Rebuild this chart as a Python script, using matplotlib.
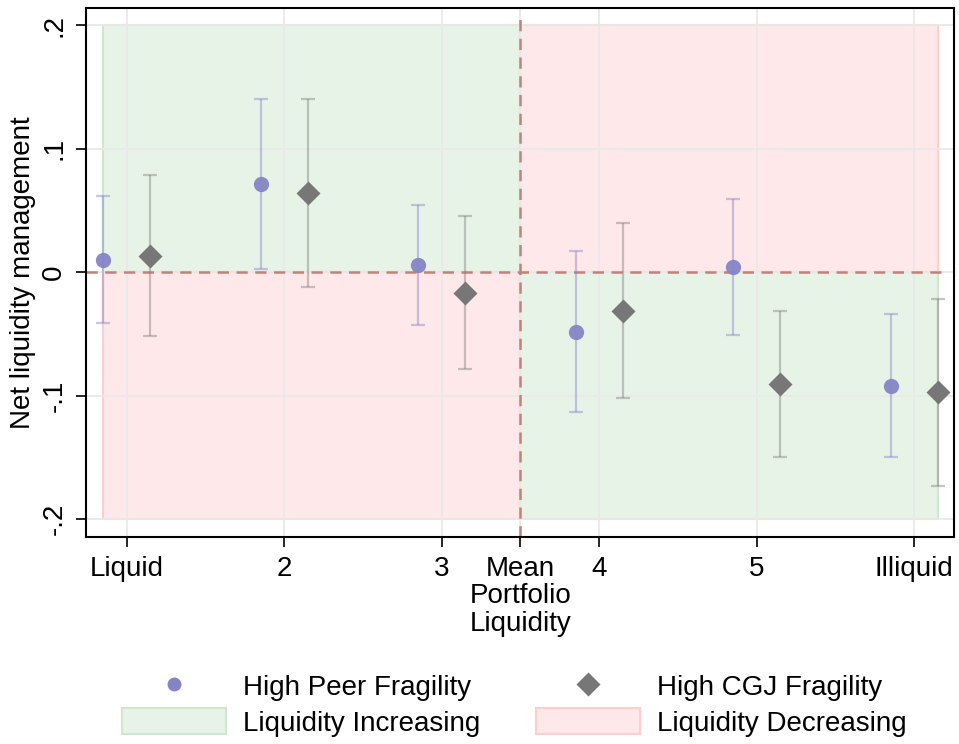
import numpy as np
import matplotlib.pyplot as plt
from matplotlib.patches import Rectangle
from matplotlib.lines import Line2D

plt.rcParams['font.family'] = ['Liberation Sans', 'DejaVu Sans']

# bins of portfolio liquidity
bins = np.array([1, 2, 3, 4, 5, 6])
tick_pos = [1, 2, 3, 3.5, 4, 5, 6]
tick_lab = ['Liquid', '2', '3', 'Mean\nPortfolio\nLiquidity', '4', '5', 'Illiquid']
mean_liq = 3.5

# High Peer Fragility: estimate and 95% CI
peer_est = [0.0102, 0.0712, 0.0057, -0.0480, 0.0045, -0.0920]
peer_hi = [0.0617, 0.1402, 0.0547, 0.0175, 0.0596, -0.0337]
peer_lo = [-0.0413, 0.0024, -0.0429, -0.1130, -0.0505, -0.1497]

# High CGJ Fragility: estimate and 95% CI
cgj_est = [0.0132, 0.0642, -0.0167, -0.0313, -0.0901, -0.0971]
cgj_hi = [0.0790, 0.1405, 0.0453, 0.0396, -0.0311, -0.0213]
cgj_lo = [-0.0518, -0.0116, -0.0785, -0.1020, -0.1497, -0.1729]

shift = 0.15
green_fc, green_ec = '#e8f3e8', '#cfe6cf'
red_fc, red_ec = '#ffe8ea', '#ffcdcd'
blue = '#8585c6'
grey = '#777777'

fig = plt.figure(figsize=(9.59, 7.44), dpi=100)
ax = fig.add_axes([0.0897, 0.2782, 0.9051, 0.711])

# shaded quadrants
x0, x1 = bins[0] - shift, bins[-1] + shift
ax.add_patch(Rectangle((x0, 0), mean_liq - x0, 0.2, fc=green_fc, ec=green_ec, lw=1.5, zorder=0.2))
ax.add_patch(Rectangle((x0, -0.2), mean_liq - x0, 0.2, fc=red_fc, ec=red_ec, lw=1.5, zorder=0.2))
ax.add_patch(Rectangle((mean_liq, 0), x1 - mean_liq, 0.2, fc=red_fc, ec=red_ec, lw=1.5, zorder=0.2))
ax.add_patch(Rectangle((mean_liq, -0.2), x1 - mean_liq, 0.2, fc=green_fc, ec=green_ec, lw=1.5, zorder=0.2))

ax.axhline(0, xmin=0, xmax=0.993, color='#bf837a', lw=1.8, ls=(0, (4.5, 3)), zorder=1.5)
ax.axvline(mean_liq, ymin=0, ymax=0.99, color='#bf837a', lw=1.8, ls=(0, (4.5, 3)), zorder=1.5)

# confidence intervals
peer_est = np.array(peer_est)
cgj_est = np.array(cgj_est)
ax.errorbar(bins - shift, peer_est,
            yerr=[peer_est - np.array(peer_lo), np.array(peer_hi) - peer_est],
            fmt='none', ecolor=blue, alpha=0.45, elinewidth=1.6, capsize=5, capthick=1.6, zorder=2)
ax.errorbar(bins + shift, cgj_est,
            yerr=[cgj_est - np.array(cgj_lo), np.array(cgj_hi) - cgj_est],
            fmt='none', ecolor='#808080', alpha=0.45, elinewidth=1.6, capsize=5, capthick=1.6, zorder=2)

ax.plot(bins - shift, peer_est, 'o', color=blue, ms=11, mec='none', alpha=0.95, zorder=3)
ax.plot(bins + shift, cgj_est, 'D', color=grey, ms=12, mec='none', zorder=3)

ax.set_xlim(0.742, 6.252)
ax.set_ylim(-0.2143, 0.2138)
ax.set_xticks(tick_pos)
ax.set_xticklabels(tick_lab, fontsize=20, linespacing=1.08, va='top')
ax.set_yticks([-0.2, -0.1, 0, 0.1, 0.2])
ax.set_yticklabels(['-.2', '-.1', '0', '.1', '.2'], fontsize=20, rotation=90, va='center')
ax.tick_params(axis='both', length=7.5, width=1.2, direction='out')
ax.tick_params(axis='x', pad=6)
ax.tick_params(axis='y', pad=6)
ax.set_axisbelow(True)
ax.grid(True, color='#e9e9e9', lw=1.3)
for s in ax.spines.values():
    s.set_linewidth(1.5)

ax.set_ylabel('Net liquidity management', fontsize=20)
ax.yaxis.set_label_coords(-0.058, 0.5)

handles = [
    Line2D([], [], marker='o', ls='none', color=blue, ms=10, mec='none'),
    Rectangle((0, 0), 1, 1, fc=green_fc, ec=green_ec, lw=1.5),
    Line2D([], [], marker='D', ls='none', color=grey, ms=12.5, mec='none'),
    Rectangle((0, 0), 1, 1, fc=red_fc, ec=red_ec, lw=1.5),
]
labels = ['High Peer Fragility', 'Liquidity Increasing', 'High CGJ Fragility', 'Liquidity Decreasing']
fig.legend(handles, labels, ncol=2, loc='center', bbox_to_anchor=(0.5365, 0.053),
           frameon=False, fontsize=20, handlelength=3.75, handleheight=1.08,
           handletextpad=0.61, columnspacing=2.0, labelspacing=0.25)

fig.savefig('out.png', dpi=100)
